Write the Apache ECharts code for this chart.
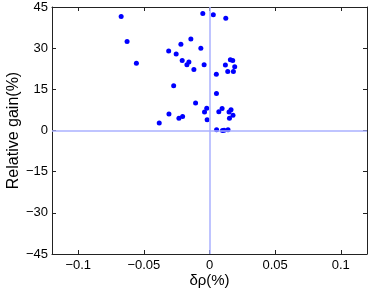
<!DOCTYPE html>
<html>
<head>
<meta charset="utf-8">
<script src="https://cdn.jsdelivr.net/npm/echarts@6/dist/echarts.min.js"></script>
<style>html,body{margin:0;padding:0;background:#fff}#c{width:374px;height:291px}</style>
</head>
<body>
<div id="c"></div>
<script>
const deltaRho = [-0.0673,-0.0628,-0.0557,-0.0383,-0.0311,-0.0309,-0.0273,-0.0254,-0.0233,-0.0218,
  -0.0208,-0.0205,-0.0172,-0.0157,-0.0142,-0.0119,-0.0106,-0.0066,-0.0051,-0.0041,
  -0.0038,-0.0021,-0.0018,0.0029,0.0052,0.0053,0.0054,0.0071,0.0124,0.0121,
  0.0159,0.0177,0.0192,0.0139,0.0182,0.0096,0.0149,0.0164,0.0179,0.0152,
  0.0099,0.0111,0.0141];
const relGain = [41.5,32.4,24.5,2.7,29.0,6.0,16.3,27.9,4.5,31.4,
  25.5,5.1,24.0,25.0,33.3,22.2,10.0,30.0,42.6,24.0,
  6.7,8.1,3.9,42.2,20.5,13.5,0.3,6.8,40.9,23.9,
  25.8,25.5,23.2,21.5,21.5,8.0,6.7,7.6,5.6,4.5,
  0.0,0.1,0.3];
const xTicks = [-0.1,-0.05,0,0.05,0.1];
const yTicks = [-45,-30,-15,0,15,30,45];
const xName = 'δρ(%)';
const yName = 'Relative gain(%)';

const pts = deltaRho.map((x,i)=>[x, relGain[i]]);
const fmt = v => String(v).replace('-', '\u2212');
const frame = {lineStyle:{color:'#222', width:1}};
const font = 'Liberation Sans, Arial, Helvetica, sans-serif';

const chart = echarts.init(document.getElementById('c'));
chart.setOption({
  animation:false,
  backgroundColor:'#fff',
  grid:{left:52, right:7, top:7, bottom:37, containLabel:false, outerBoundsMode:'none'},
  xAxis:[{
    type:'value', min:-0.12, max:0.12, position:'bottom',
    axisLine:Object.assign({show:true, onZero:false}, frame),
    axisTick:{show:true, inside:true, length:4, customValues:xTicks, lineStyle:{color:'#222'}},
    axisLabel:{customValues:xTicks, formatter:fmt, color:'#000', fontSize:13, fontFamily:font, margin:5},
    splitLine:{show:false},
    name:xName, nameLocation:'middle', nameGap:19, nameMoveOverlap:false,
    nameTextStyle:{color:'#000', fontSize:15, fontFamily:font}
  },{
    type:'value', min:-0.12, max:0.12, position:'top',
    axisLine:Object.assign({show:true, onZero:false}, frame),
    axisTick:{show:true, inside:true, length:4, customValues:xTicks, lineStyle:{color:'#222'}},
    axisLabel:{show:false}, splitLine:{show:false}
  }],
  yAxis:[{
    type:'value', min:-45, max:45, interval:15, position:'left',
    axisLine:Object.assign({show:true, onZero:false}, frame),
    axisTick:{show:true, inside:true, length:4, lineStyle:{color:'#222'}},
    axisLabel:{formatter:fmt, color:'#000', fontSize:13, fontFamily:font, margin:4},
    splitLine:{show:false},
    name:yName, nameLocation:'middle', nameGap:30, nameMoveOverlap:false,
    nameTextStyle:{color:'#000', fontSize:16, fontFamily:font}
  },{
    type:'value', min:-45, max:45, interval:15, position:'right',
    axisLine:Object.assign({show:true, onZero:false}, frame),
    axisTick:{show:true, inside:true, length:4, lineStyle:{color:'#222'}},
    axisLabel:{show:false}, splitLine:{show:false}
  }],
  series:[{
    type:'scatter', data:[], z:1,
    markLine:{
      silent:true, symbol:'none', label:{show:false},
      lineStyle:{color:'#aab0ff', width:1.5, type:'solid'},
      data:[{xAxis:0},{yAxis:0}]
    }
  },{
    type:'scatter', data:pts, symbol:'circle', symbolSize:5, z:3,
    itemStyle:{color:'#0000ff', opacity:1}
  }]
});
</script>
</body>
</html>
